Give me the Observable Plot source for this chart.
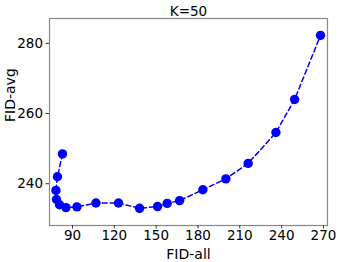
<!DOCTYPE html>
<html>
<head>
<meta charset="utf-8">
<script src="https://cdn.jsdelivr.net/npm/d3@7"></script>
<script src="https://cdn.jsdelivr.net/npm/@observablehq/plot@0.6"></script>
<style>
  html, body { margin: 0; padding: 0; background: white; }
</style>
</head>
<body>
<div id="chart"></div>
<script>
const title = "K=50";
const xLabel = "FID-all";
const yLabel = "FID-avg";
const fidAll = [82.8, 79.2, 78.1, 78.5, 80.7, 85.3, 93.2, 106.8, 123.0, 138.1, 151.0, 157.9, 166.8, 183.5, 200.0, 216.0, 235.9, 249.3, 267.9];
const fidAvg = [248.5, 242.0, 238.1, 235.5, 234.0, 233.2, 233.4, 234.5, 234.5, 233.0, 233.5, 234.4, 235.2, 238.3, 241.4, 245.8, 254.6, 264.0, 282.3];
const xTicks = [90, 120, 150, 180, 210, 240, 270];
const yTicks = [240, 260, 280];

const data = fidAll.map((x, i) => ({x, y: fidAvg[i]}));

const chart = Plot.plot({
  width: 339,
  height: 262,
  marginLeft: 49,
  marginRight: 12,
  marginTop: 18,
  marginBottom: 37,
  style: {fontFamily: "DejaVu Sans", fontSize: "13px", background: "white", color: "black"},
  x: {domain: [73.5, 272.9]},
  y: {domain: [228.1, 287.1]},
  marks: [
    Plot.frame({stroke: "#888", strokeWidth: 1.2}),
    Plot.axisX({ticks: xTicks, tickSize: 3.5, tickPadding: 1.5, fontSize: 13.5, label: null, stroke: "#333"}),
    Plot.axisY({ticks: yTicks, tickSize: 3.5, tickPadding: 3, fontSize: 13.5, label: null, stroke: "#333"}),
    Plot.line(data, {x: "x", y: "y", stroke: "#0000ff", strokeWidth: 1.5, strokeDasharray: "5,3"}),
    Plot.dot(data, {x: "x", y: "y", r: 4.7, fill: "#0000ff", stroke: "none"}),
    Plot.text([title], {frameAnchor: "top", dy: -3, lineAnchor: "bottom", fontSize: 13.5, fill: "black"}),
    Plot.text([xLabel], {frameAnchor: "bottom", dy: 33, lineAnchor: "bottom", fontSize: 14, fill: "black"}),
    Plot.text([yLabel], {frameAnchor: "left", dx: -39, rotate: -90, fontSize: 14, fill: "black"})
  ]
});
document.getElementById("chart").appendChild(chart);
</script>
</body>
</html>
